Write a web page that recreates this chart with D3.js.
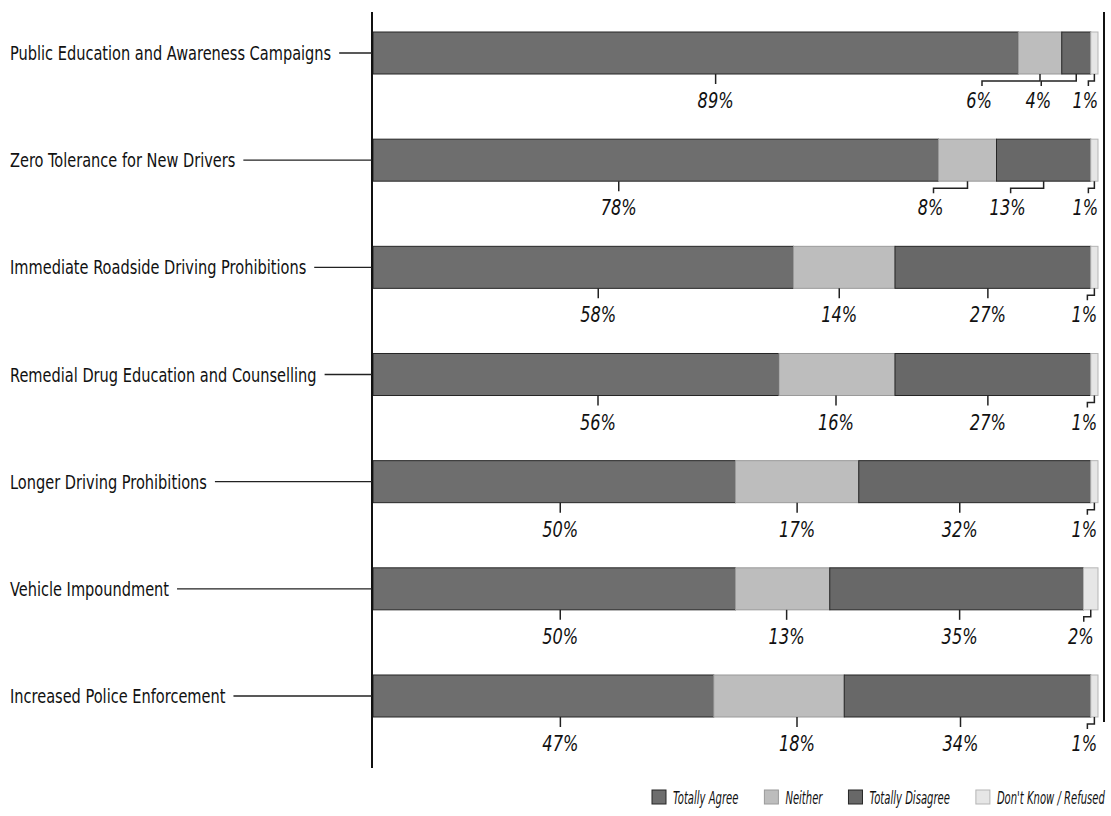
<!DOCTYPE html>
<html>
<head>
<meta charset="utf-8">
<script src="https://cdn.jsdelivr.net/npm/d3@7/dist/d3.min.js"></script>
<style>
  html, body { margin: 0; padding: 0; background: #fff; }
  svg { display: block; }
  .cat { font-family: "Liberation Sans Narrow", "DejaVu Sans Condensed", "Arial Narrow", sans-serif; font-size: 20px; fill: #111; }
  .val { font-family: "Liberation Sans Narrow", "DejaVu Sans Condensed", "Arial Narrow", sans-serif; font-style: italic; font-size: 22px; fill: #111; }
  .leg { font-family: "Liberation Sans Narrow", "DejaVu Sans Condensed", "Arial Narrow", sans-serif; font-style: italic; font-size: 18px; fill: #111; }
</style>
</head>
<body>
<svg id="chart" width="1111" height="816"></svg>
<script>
// Survey responses: support for each measure (percent of respondents)
const categories = [
  "Public Education and Awareness Campaigns",
  "Zero Tolerance for New Drivers",
  "Immediate Roadside Driving Prohibitions",
  "Remedial Drug Education and Counselling",
  "Longer Driving Prohibitions",
  "Vehicle Impoundment",
  "Increased Police Enforcement"
];
const seriesNames = ["Totally Agree", "Neither", "Totally Disagree", "Don't Know / Refused"];
const totallyAgree    = [89, 78, 58, 56, 50, 50, 47];
const neither         = [6, 8, 14, 16, 17, 13, 18];
const totallyDisagree = [4, 13, 27, 27, 32, 35, 34];
const dontKnow        = [1, 1, 1, 1, 1, 2, 1];

// Horizontal nudge (px) of each value label from its segment centre
const labelNudge = [
  [20, -61, -38, -9],
  [-37, -37, -36, -9],
  [15, -5, -5, -10],
  [22, -1, -5, -10],
  [6, 0, -15, -10],
  [6, 4, 3, -10],
  [17, 18, -7, -10]
];

const fills   = ["#6e6e6e", "#bdbdbd", "#686868", "#e6e6e6"];
const strokes = ["#262626", "#9a9a9a", "#262626", "#b5b5b5"];

// Narrow lettering: condense the available sans horizontally
const CAT_SX = 0.81, VAL_SX = 0.82, LEG_SX = 0.62;

const columns = [totallyAgree, neither, totallyDisagree, dontKnow];
const rows = categories.map((c, i) => {
  const r = { category: c };
  seriesNames.forEach((s, j) => { r[s] = columns[j][i]; });
  return r;
});

const svg = d3.select("#chart");

const x = d3.scaleLinear().domain([0, 100]).range([373, 1098]);
const y = d3.scaleBand().domain(categories).range([32, 717]).paddingInner(0.608).paddingOuter(0);

const stacked = d3.stack().keys(seriesNames)(rows);

// condensed text helper: returns rendered (scaled) width
function narrowText(parent, cls, tx, ty, sx, str, anchor) {
  const g = parent.append("g").attr("transform", `translate(${tx},${ty}) scale(${sx},1)`);
  const t = g.append("text").attr("class", cls).attr("text-anchor", anchor || "start").text(str);
  return t.node().getComputedTextLength() * sx;
}

// Bars
const layers = svg.append("g").selectAll("g")
  .data(stacked)
  .join("g")
  .attr("fill", (d, i) => fills[i])
  .attr("stroke", (d, i) => strokes[i]);

layers.selectAll("rect")
  .data(d => d)
  .join("rect")
  .attr("x", d => x(d[0]))
  .attr("y", d => y(d.data.category))
  .attr("width", d => x(d[1]) - x(d[0]))
  .attr("height", y.bandwidth())
  .attr("stroke-width", 1);

// Left axis and right frame line
svg.append("line").attr("x1", 372).attr("x2", 372).attr("y1", 12).attr("y2", 768)
  .attr("stroke", "#111").attr("stroke-width", 2);
svg.append("line").attr("x1", 1104).attr("x2", 1104).attr("y1", 12).attr("y2", 722)
  .attr("stroke", "#111").attr("stroke-width", 2);

// Category labels with leader lines to the axis
const catG = svg.append("g");
categories.forEach(c => {
  const cy = y(c) + y.bandwidth() / 2;
  const w = narrowText(catG, "cat", 10, cy + 7, CAT_SX, c);
  catG.append("line")
    .attr("x1", 10 + w + 8).attr("x2", 372)
    .attr("y1", cy).attr("y2", cy)
    .attr("stroke", "#222").attr("stroke-width", 1.3);
});

// Value labels with ticks / bracket leaders
const valG = svg.append("g");
stacked.forEach((layer, j) => {
  layer.forEach((d, i) => {
    const v = d[1] - d[0];
    const bottom = y(d.data.category) + y.bandwidth();
    const cx = (x(d[0]) + x(d[1])) / 2;
    const nudge = labelNudge[i][j];
    const lx = cx + nudge;
    if (v < 15 && Math.abs(nudge) > 6) {
      const drop = lx + 3;
      valG.append("path")
        .attr("d", `M${cx},${bottom} V${bottom + 7} H${drop} V${bottom + 12}`)
        .attr("fill", "none").attr("stroke", "#222").attr("stroke-width", 1.5);
    } else {
      valG.append("line")
        .attr("x1", lx).attr("x2", lx)
        .attr("y1", bottom).attr("y2", bottom + 10)
        .attr("stroke", "#222").attr("stroke-width", 1.5);
    }
    narrowText(valG, "val", lx, bottom + 34, VAL_SX, v + "%", "middle");
  });
});

// Legend
const leg = svg.append("g");
let lxPos = 652;
seriesNames.forEach((s, j) => {
  leg.append("rect")
    .attr("x", lxPos).attr("y", 790).attr("width", 14).attr("height", 14)
    .attr("fill", fills[j]).attr("stroke", strokes[j]).attr("stroke-width", 1);
  const w = narrowText(leg, "leg", lxPos + 21, 804, LEG_SX, s);
  lxPos += 21 + w + 26;
});
</script>
</body>
</html>
